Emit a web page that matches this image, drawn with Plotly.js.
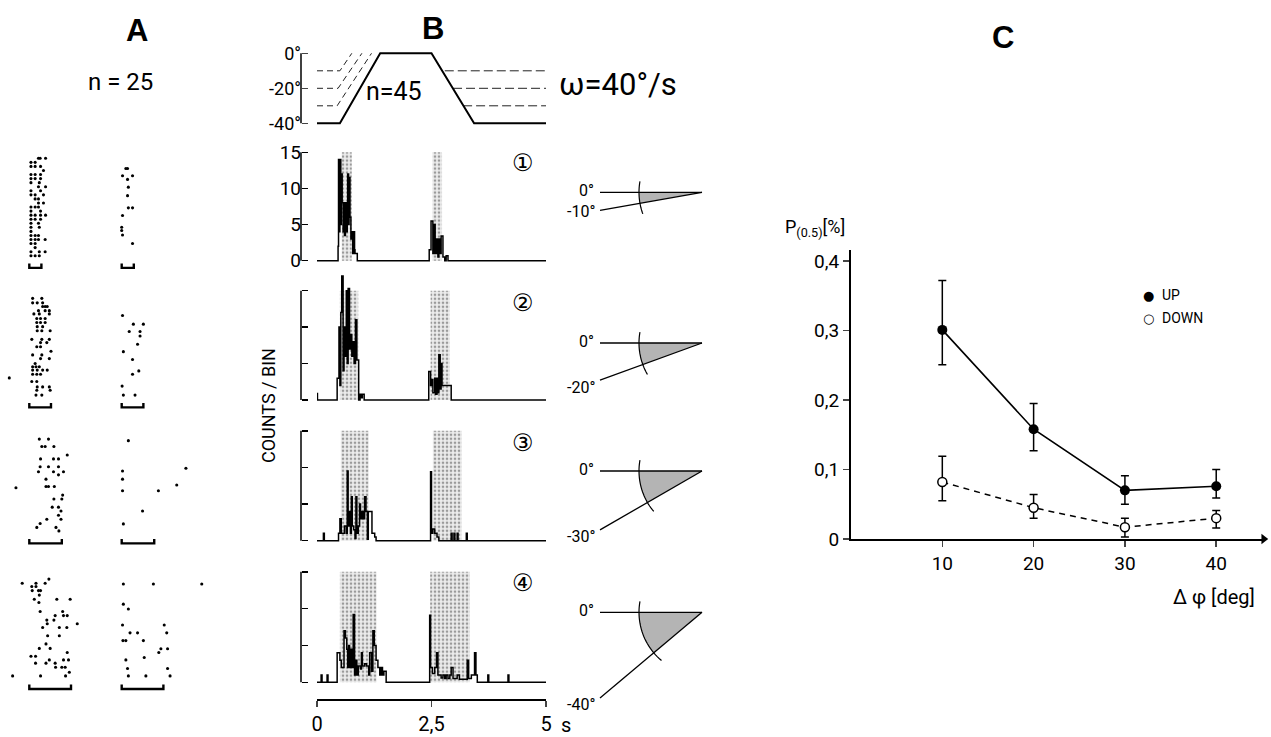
<!DOCTYPE html>
<html><head><meta charset="utf-8">
<script src="https://cdn.plot.ly/plotly-3.0.1.min.js"></script>
<style>html,body{margin:0;padding:0;background:#fff}#chart{width:1271px;height:737px}</style>
</head><body><div id="chart"></div>
<script>
// ===================== DATA =====================
// Panel C
const deltaPhi = [10, 20, 30, 40];
const upMean   = [0.301, 0.158, 0.070, 0.076];
const upErrHi  = [0.372, 0.195, 0.091, 0.100];
const upErrLo  = [0.251, 0.127, 0.050, 0.059];
const downMean  = [0.082, 0.045, 0.017, 0.030];
const downErrHi = [0.119, 0.064, 0.030, 0.041];
const downErrLo = [0.055, 0.030, 0.003, 0.016];
const cYTickVals = [0, 0.1, 0.2, 0.3, 0.4];
const cYTickText = ['0', '0,1', '0,2', '0,3', '0,4'];
const cXTickVals = [10, 20, 30, 40];
const cXTickText = ['10', '20', '30', '40'];

// Panel B: stimulus trace (time s, position deg)
const stimT   = [0, 0.5, 1.38, 2.5, 3.43, 5];
const stimDeg = [-40, -40, 0, 0, -40, -40];
const dashLevels    = [-10, -20, -30];
const dashRiseStart = [0.5, 0.46, 0.44];
const dashRiseEnd   = [0.76, 0.98, 1.19];
const dashFallStart = [2.79, 2.97, 3.19];
const stimTickVals = [0, -20, -40];
const stimTickText = ['0°', '-20°', '-40°'];

// Panel B: PSTHs, [time s, counts/bin] step points
const hist1 = [[0,0],[0.46,2],[0.47,14],[0.49,4],[0.50,14],[0.52,5],[0.53,12],[0.55,8],[0.57,4],[0.58,8],[0.60,3.5],[0.62,8],[0.64,4],[0.66,8],[0.67,12],[0.69,5],[0.70,11.5],[0.72,6],[0.74,3],[0.76,4],[0.78,1],[0.80,4],[0.82,1.5],[0.83,1],[0.88,0],[2.45,1.5],[2.49,5.5],[2.53,1],[2.55,5],[2.58,1],[2.61,3],[2.64,0.5],[2.66,3],[2.69,1],[2.71,3.4],[2.75,0.5],[2.79,0],[2.82,0.7],[2.86,0],[5,0]];
const hist2 = [[0,0.9],[0.01,0],[0.44,3],[0.48,10],[0.50,2],[0.52,12],[0.54,17],[0.57,4],[0.59,10],[0.62,6],[0.64,15],[0.66,5],[0.68,15.3],[0.71,7],[0.73,9],[0.76,6],[0.79,8],[0.81,5],[0.84,11],[0.87,5.5],[0.91,0],[0.94,0.8],[0.97,0.3],[0.99,0.8],[1.03,0],[2.44,3.9],[2.48,2],[2.51,2.8],[2.53,1],[2.57,3],[2.59,0.8],[2.62,3],[2.64,1],[2.66,6.2],[2.69,1.5],[2.71,5],[2.73,2],[2.79,2],[2.93,0],[5,0]];
const hist3 = [[0,0],[0.14,1],[0.16,0],[0.47,1],[0.50,3],[0.53,1],[0.57,1],[0.60,2],[0.64,1],[0.66,9.5],[0.68,2],[0.70,4],[0.73,1],[0.75,6],[0.77,2],[0.80,1.5],[0.83,0.3],[0.85,6],[0.87,1],[0.90,2],[0.93,5],[0.95,3],[0.98,4],[1.01,3],[1.04,6],[1.07,4],[1.10,0.2],[1.12,4],[1.20,1],[1.26,0.5],[1.29,0],[2.48,9.4],[2.50,1],[2.53,1.6],[2.57,1],[2.62,0.5],[2.66,0],[2.93,1],[2.95,0],[2.99,1],[3.01,0],[3.06,1],[3.08,0],[3.26,1],[3.28,0],[5,0]];
const hist4 = [[0,0],[0.09,1],[0.11,0],[0.22,1],[0.24,0],[0.44,4],[0.50,3],[0.53,2],[0.59,7],[0.62,6],[0.65,4.5],[0.67,2],[0.69,5],[0.71,2],[0.73,4.5],[0.76,2],[0.79,9.2],[0.82,1],[0.84,3],[0.87,1],[0.90,2.2],[0.95,1.8],[0.97,4],[0.99,2.2],[1.04,2.5],[1.08,2.2],[1.13,1],[1.15,4],[1.19,1.5],[1.22,7],[1.25,5],[1.29,3],[1.33,2],[1.37,1],[1.40,2],[1.43,1],[1.46,1.5],[1.51,0],[2.46,9.1],[2.48,2],[2.52,1.2],[2.57,2],[2.61,4],[2.64,1],[2.71,0.6],[2.75,1],[2.79,0.5],[2.82,1],[2.86,0.5],[2.90,1],[2.93,2],[2.97,0.5],[3.06,1],[3.11,0.4],[3.28,3],[3.31,0.5],[3.37,1],[3.44,4],[3.47,1],[3.50,0],[3.73,1],[3.75,0],[4.17,1],[4.19,0],[5,0]];
// stimulus-movement (shaded) intervals [start, end] s
const shade1 = [[0.54,0.76],[2.52,2.73]];
const shade2 = [[0.50,0.90],[2.48,2.90]];
const shade3 = [[0.52,1.13],[2.53,3.16]];
const shade4 = [[0.50,1.30],[2.47,3.34]];
const shadeTop = 15;
const histTickVals = [0, 5, 10, 15];
const timeTickVals = [0, 2.5, 5];
const timeTickText = ['0', '2,5', '5'];
const sweepAngles = [10, 20, 30, 40];
const sweepLabels = ['-10°', '-20°', '-30°', '-40°'];
const circledNums = ['\u2460', '\u2461', '\u2462', '\u2463'];

// Panel A rasters: each row = [trial, spike times (s) ...]
const rasterUp1 = [[1,0.22,0.26,0.39],[2,0.04,0.14],[3,0.04,0.14,0.27],[4,0.34],[5,0.04,0.14,0.27],[6,0.04,0.14,0.27],[7,0.04,0.24],[8,0.22,0.39],[9,0.04,0.27],[10,0.04,0.14,0.34],[11,0.14,0.22],[12,0.22,0.34],[13,0.04,0.14,0.22],[14,0.04,0.27],[15,0.04,0.14,0.27,0.39],[16,0.04,0.14,0.27],[17,0.04,0.22],[18,0.04,0.24],[19,0.04],[20,0.04,0.14,0.22],[21,0.04,0.14,0.22,0.38],[22,0.04,0.14],[23,0.14],[24,0.04,0.24,0.38],[25,0.04,0.14,0.24]];
const rasterDown1 = [[3.5,0.10,0.14],[5.3,0.02,0.26],[6.2,0.14],[8.1,0.16],[10.2,0.14],[13.2,0.16,0.26],[15.1,0.02],[18,0.0],[18.8,0.0],[19.9,0.02],[22,0.26]];
const rasterUp2 = [[1.4,0.08,0.30],[2.5,0.08,0.19,0.32],[3.4,0.32,0.38,0.43],[4.4,0.22,0.38,0.48],[5.2,0.11,0.24,0.48],[6.3,0.18,0.27,0.38],[7.3,0.18,0.27,0.38],[8.3,0.19,0.32],[9.3,0.19,0.30,0.50],[11.4,0.06,0.30,0.48],[12.2,0.27,0.42],[13.2,0.18,0.27],[14.3,0.52],[15.2,0.08,0.30],[16.1,0.27,0.48],[17.3,0.14],[18.1,0.08,0.16,0.24],[18.9,0.08,0.19,0.32,0.43],[19.9,0.08,0.18,0.27],[20.8,-0.48],[21.7,0.06,0.18],[23.0,0.19,0.32,0.48],[23.8,0.18,0.50],[25,0.16,0.30]];
const rasterDown2 = [[5.6,0.02],[7.7,0.28,0.52],[9.5,0.18,0.44],[10.6,0.44],[12.6,0.38],[14.4,0.04],[16.3,0.26],[19.1,0.41],[19.9,0.26],[22.8,0.01],[25,0.04,0.32]];
const rasterUp3 = [[1.2,0.24,0.46],[3.1,0.30,0.38,0.59],[5.3,0.91],[6.3,0.27,0.58,0.70],[8.3,0.26,0.46,0.70],[9.6,0.22,0.58,0.82],[10.4,0.70],[11.5,0.40],[13.4,0.40,0.46,0.60],[13.7,-0.32],[15.6,0.80],[16.6,0.59,0.78],[18.7,0.55,0.70],[19.7,0.76],[20.8,0.70],[21.8,0.42,0.76],[22.9,0.26],[23.9,0.18,0.64],[24.8,0.71]];
const rasterDown3 = [[1.6,0.16],[8.7,1.54],[9.4,0.02],[11.5,0.02],[13.0,1.32],[14.5,0.02,0.88],[19.7,0.50],[23.0,0.04]];
const rasterUp4 = [[1.2,0.47],[2.2,-0.17,0.16,0.38],[3.0,0.06,0.16],[4.0,0.07,0.22,0.27],[5.1,0.24],[6.1,0.12,0.66,0.98],[6.9,0.23],[9.1,0.26,0.80],[10.1,0.62,0.82,0.91],[11.2,0.42,0.59],[12.1,0.43,1.15],[13.0,0.32,0.72,0.90],[15.0,0.44,0.72],[17.0,0.40],[18.1,0.24,0.50],[19.1,0.91],[20.0,0.04,0.15],[20.9,0.48,0.82,0.94],[21.7,0.15,0.40,0.62],[22.7,0.63,0.78,0.86],[23.9,0.96],[24.8,-0.40,0.27,0.87]];
const rasterDown4 = [[2.4,0.04,0.76,1.92],[7.3,0.04],[8.5,0.16],[12.4,0.02,1.02],[14.3,0.20,0.38,1.08],[16.2,0.03,0.10,0.52],[18.2,0.94,1.10],[19.1,0.89],[20.3,0.54],[20.9,0.10],[23.0,0.14,1.10],[24.8,0.16,0.58,1.16]];
const stimDurations = [0.29, 0.52, 0.78, 1.0];

// ===================== LAYOUT HELPERS =====================
const W = 1271, H = 737;
const fx = p => p / W, fy = p => 1 - p / H;
const FONT = 'Roboto, "DejaVu Sans", sans-serif';
const traces = [], shapes = [], annotations = [];
const layout = {
  width: W, height: H, margin: {l: 0, r: 0, t: 0, b: 0},
  paper_bgcolor: '#fff', plot_bgcolor: 'rgba(0,0,0,0)',
  showlegend: false, font: {family: FONT, color: '#000', size: 18},
  shapes, annotations
};
function ann(text, px, py, o = {}) {
  annotations.push(Object.assign({text, x: fx(px), y: fy(py), xref: 'paper', yref: 'paper',
    showarrow: false, xanchor: 'center', yanchor: 'middle', font: {size: 18}}, o));
}
const hidden = {visible: false, fixedrange: true};

// ===================== PANEL C =====================
layout.xaxis = {domain: [fx(851), fx(1263.7)], range: [0, 45.2], anchor: 'y',
  showline: true, linewidth: 2, linecolor: '#000', ticks: 'outside', ticklen: 6, tickwidth: 1.5,
  tickvals: cXTickVals, ticktext: cXTickText, tickfont: {size: 19}, showgrid: false, zeroline: false};
layout.yaxis = {domain: [fy(539), fy(250)], range: [0, 0.416], anchor: 'x',
  showline: true, linewidth: 2, linecolor: '#000', ticks: 'outside', ticklen: 6, tickwidth: 1.5,
  tickvals: cYTickVals, ticktext: cYTickText, tickfont: {size: 19}, showgrid: false, zeroline: false};
traces.push({x: deltaPhi, y: downMean, xaxis: 'x', yaxis: 'y', mode: 'lines+markers', cliponaxis: false,
  line: {color: '#000', width: 1.5, dash: '6px,5px'},
  marker: {size: 9, color: '#fff', line: {color: '#000', width: 1.5}},
  error_y: {type: 'data', symmetric: false, array: downErrHi.map((v, i) => v - downMean[i]),
    arrayminus: downMean.map((v, i) => v - downErrLo[i]), color: '#000', thickness: 1.5, width: 4}});
traces.push({x: deltaPhi, y: upMean, xaxis: 'x', yaxis: 'y', mode: 'lines+markers', cliponaxis: false,
  line: {color: '#000', width: 1.6},
  marker: {size: 10, color: '#000'},
  error_y: {type: 'data', symmetric: false, array: upErrHi.map((v, i) => v - upMean[i]),
    arrayminus: upMean.map((v, i) => v - upErrLo[i]), color: '#000', thickness: 1.5, width: 4}});
// arrow head at the end of the x axis
traces.push({x: [45.2], y: [0], xaxis: 'x', yaxis: 'y', mode: 'markers', cliponaxis: false,
  marker: {symbol: 'triangle-right', size: 9, color: '#000'}, hoverinfo: 'skip'});
ann('P<sub>(0.5)</sub>[%]', 783, 228, {xanchor: 'left', font: {size: 18}});
ann('\u0394 \u03c6 [deg]', 1257, 597, {xanchor: 'right', font: {size: 20}});
ann('\u25cf', 1148, 295, {font: {size: 13, family: '"DejaVu Sans"'}});
ann('UP', 1160, 295, {xanchor: 'left', font: {size: 14}});
ann('\u25cb', 1148, 318, {font: {size: 13, family: '"DejaVu Sans"'}});
ann('DOWN', 1160, 318, {xanchor: 'left', font: {size: 14}});

// ===================== PANEL B =====================
const hists = [hist1, hist2, hist3, hist4];
const shades = [shade1, shade2, shade3, shade4];
const base = [260.7, 400, 540.7, 682.3];
const pxPerCount = [7.23, 7.29, 7.33, 7.37];
const apexY = [192.3, 343, 471, 612.3];
hists.forEach((h, k) => {
  const n = k + 2, xa = 'x' + n, ya = 'y' + n;
  const xcfg = {domain: [fx(317), fx(546)], range: [0, 5], fixedrange: true, showgrid: false, zeroline: false};
  if (k === 3) {
    Object.assign(xcfg, {anchor: 'free', position: fy(700), showline: true, linewidth: 2, linecolor: '#000',
      ticks: 'outside', ticklen: 6, tickwidth: 1.5, tickvals: timeTickVals, ticktext: timeTickText,
      tickfont: {size: 20}});
  } else {
    Object.assign(xcfg, {anchor: ya, showline: false, showticklabels: false, ticks: ''});
  }
  layout['xaxis' + n] = xcfg;
  layout['yaxis' + n] = {domain: [fy(base[k] + 0.5 * pxPerCount[k]), fy(base[k] - 18 * pxPerCount[k])],
    range: [-0.5, 18], anchor: 'free', position: fx(301), showline: false, showgrid: false, zeroline: false,
    ticks: 'inside', ticklen: 6, tickwidth: 1.5, tickcolor: '#000', tickvals: histTickVals,
    showticklabels: k === 0, tickfont: {size: 19}, fixedrange: true};
  shapes.push({type: 'line', xref: 'paper', yref: ya, x0: fx(301), x1: fx(301), y0: 0, y1: 15,
    line: {color: '#000', width: 1.5}});
  const sh = shades[k];
  traces.push({type: 'bar', xaxis: xa, yaxis: ya, x: sh.map(s => (s[0] + s[1]) / 2),
    width: sh.map(s => s[1] - s[0]), y: sh.map(() => shadeTop),
    marker: {color: '#e4e4e4', line: {width: 0},
      pattern: {shape: '.', bgcolor: '#ececec', fgcolor: '#9a9a9a', size: 4, solidity: 0.35}},
    hoverinfo: 'skip'});
  traces.push({type: 'scatter', mode: 'lines', xaxis: xa, yaxis: ya, x: h.map(p => p[0]), y: h.map(p => p[1]),
    line: {shape: 'hv', color: '#000', width: 1.5}, hoverinfo: 'skip'});
  ann(circledNums[k], 523, [163, 303, 443, 583][k], {font: {size: 24, family: '"DejaVu Sans", "Noto Sans CJK JP"'}});

  // sweep diagram
  const th = sweepAngles[k] * Math.PI / 180, ax0 = 702, ay0 = apexY[k], L = 102, R = 63;
  const P = (px, py) => fx(px).toFixed(5) + ',' + fy(py).toFixed(5);
  let poly = 'M ' + P(ax0, ay0) + ' L ' + P(ax0 - R, ay0);
  for (let i = 1; i <= 20; i++) { const a = th * i / 20; poly += ' L ' + P(ax0 - R * Math.cos(a), ay0 + R * Math.sin(a)); }
  poly += ' Z';
  shapes.push({type: 'path', xref: 'paper', yref: 'paper', path: poly, fillcolor: '#b4b4b4', line: {width: 0}});
  shapes.push({type: 'path', xref: 'paper', yref: 'paper', path: 'M ' + P(600, ay0) + ' L ' + P(ax0, ay0),
    line: {color: '#000', width: 1.3}});
  const endY = ay0 + L * Math.tan(th);
  shapes.push({type: 'path', xref: 'paper', yref: 'paper', path: 'M ' + P(600, endY) + ' L ' + P(ax0, ay0),
    line: {color: '#000', width: 1.3}});
  let arc = '';
  const a0 = -10 * Math.PI / 180, a1 = th + 10 * Math.PI / 180;
  for (let i = 0; i <= 24; i++) { const a = a0 + (a1 - a0) * i / 24; arc += (i ? ' L ' : 'M ') + P(ax0 - R * Math.cos(a), ay0 + R * Math.sin(a)); }
  shapes.push({type: 'path', xref: 'paper', yref: 'paper', path: arc, line: {color: '#000', width: 1.2}});
  ann('0°', 596, ay0 - 2, {xanchor: 'right', font: {size: 16}});
  ann(sweepLabels[k], 597, endY + (k === 0 ? 1 : 7), {xanchor: 'right', font: {size: 16}});
});
ann('s', 566, 725, {font: {size: 20}});
ann('COUNTS / BIN', 268, 406, {textangle: -90, font: {size: 18}});

// stimulus trace
layout.xaxis6 = Object.assign({domain: [fx(317), fx(546)], range: [0, 5], anchor: 'y6'}, hidden);
layout.yaxis6 = {domain: [fy(123.3 + 4 * 1.75), fy(53.3 - 4 * 1.75)], range: [-44, 4], anchor: 'free',
  position: fx(301), showline: false, showgrid: false, zeroline: false, ticks: 'inside', ticklen: 6,
  tickwidth: 1.5, tickvals: stimTickVals, ticktext: stimTickText, tickfont: {size: 18}, fixedrange: true};
shapes.push({type: 'line', xref: 'paper', yref: 'y6', x0: fx(301), x1: fx(301), y0: -40, y1: 0,
  line: {color: '#000', width: 1.5}});
dashLevels.forEach((lv, i) => {
  traces.push({mode: 'lines', xaxis: 'x6', yaxis: 'y6', x: [0, dashRiseStart[i], dashRiseEnd[i]], y: [lv, lv, 0],
    line: {color: '#222', width: 1, dash: '6px,4px'}, hoverinfo: 'skip'});
  traces.push({mode: 'lines', xaxis: 'x6', yaxis: 'y6', x: [dashFallStart[i], 5], y: [lv, lv],
    line: {color: '#222', width: 1, dash: '9px,4px'}, hoverinfo: 'skip'});
});
traces.push({mode: 'lines', xaxis: 'x6', yaxis: 'y6', x: stimT, y: stimDeg, line: {color: '#000', width: 2}, hoverinfo: 'skip'});
ann('n=45', 394, 92, {font: {size: 25}});
ann('\u03c9=40°/s', 618, 84, {font: {size: 31}});

// ===================== PANEL A =====================
const rasters = [rasterUp1, rasterDown1, rasterUp2, rasterDown2, rasterUp3, rasterDown3, rasterUp4, rasterDown4];
const rowTop = [158.3, 296.7, 438.3, 578.3];
const rowStep = [4.06, 4.1, 3.89, 4.1];
const colZero = [29.3, 121.7], pxPerSec = 41.7;
const colRange = [[-0.55, 1.6], [-0.1, 2.1]];
const bracketTrial = 28;
rasters.forEach((cell, i) => {
  const r = Math.floor(i / 2), c = i % 2, n = 7 + i;
  const cr = colRange[c];
  layout['xaxis' + n] = Object.assign({domain: [fx(colZero[c] + cr[0] * pxPerSec), fx(colZero[c] + cr[1] * pxPerSec)],
    range: cr, anchor: 'y' + n}, hidden);
  layout['yaxis' + n] = Object.assign({domain: [fy(rowTop[r] + 29 * rowStep[r]), fy(rowTop[r] - 2 * rowStep[r])],
    range: [30, -1], anchor: 'x' + n}, hidden);
  const xs = [], ys = [];
  cell.forEach(row => row.slice(1).forEach(t => { xs.push(t); ys.push(row[0]); }));
  traces.push({mode: 'markers', xaxis: 'x' + n, yaxis: 'y' + n, x: xs, y: ys, cliponaxis: false,
    marker: {size: 3.1, color: '#000'}, hoverinfo: 'skip'});
  const d = stimDurations[r];
  traces.push({mode: 'lines', xaxis: 'x' + n, yaxis: 'y' + n, x: [0, 0, d, d],
    y: [bracketTrial - 1.1, bracketTrial, bracketTrial, bracketTrial - 1.1],
    line: {color: '#000', width: 2.4}, hoverinfo: 'skip'});
});
ann('n = 25', 120, 82, {font: {size: 24}});

// panel letters
ann('<b>A</b>', 137, 30, {font: {size: 31, family: '"Liberation Sans", Arial, sans-serif'}});
ann('<b>B</b>', 433, 28, {font: {size: 31, family: '"Liberation Sans", Arial, sans-serif'}});
ann('<b>C</b>', 1003, 38, {font: {size: 31, family: '"Liberation Sans", Arial, sans-serif'}});

Plotly.newPlot('chart', traces, layout, {staticPlot: true, displayModeBar: false});
</script>
</body></html>
